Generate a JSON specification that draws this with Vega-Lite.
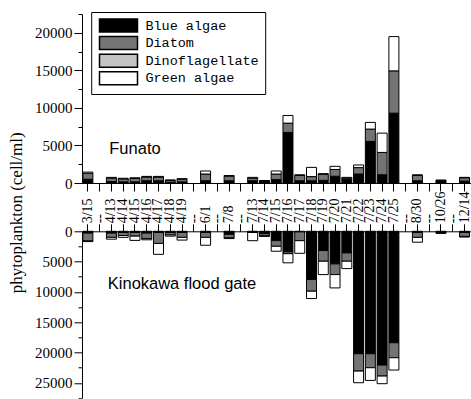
{
  "$schema": "https://vega.github.io/schema/vega-lite/v6.json",
  "background": "white",
  "padding": {"left": 7, "top": 11, "right": 0, "bottom": 0},
  "bounds": "flush",
  "spacing": 48.3,
  "config": {
    "view": {"stroke": null},
    "font": "Liberation Serif",
    "legend": {"strokeWidth": 1},
    "axis": {"domainColor": "black", "tickColor": "black", "labelColor": "black", "titleColor": "black", "grid": false, "labelFont": "Liberation Serif", "titleFont": "Liberation Serif", "titleFontWeight": "normal", "domainWidth": 1, "tickWidth": 1}
  },
  "datasets": {
    "top": [
      {"d": "3/15", "s": "Blue algae", "v": 500}, {"d": "3/15", "s": "Diatom", "v": 800}, {"d": "3/15", "s": "Green algae", "v": 150},
      {"d": "4/13", "s": "Blue algae", "v": 200}, {"d": "4/13", "s": "Diatom", "v": 450}, {"d": "4/13", "s": "Green algae", "v": 100},
      {"d": "4/14", "s": "Blue algae", "v": 150}, {"d": "4/14", "s": "Diatom", "v": 400}, {"d": "4/14", "s": "Green algae", "v": 80},
      {"d": "4/15", "s": "Blue algae", "v": 150}, {"d": "4/15", "s": "Diatom", "v": 450}, {"d": "4/15", "s": "Green algae", "v": 100},
      {"d": "4/16", "s": "Blue algae", "v": 300}, {"d": "4/16", "s": "Diatom", "v": 500}, {"d": "4/16", "s": "Green algae", "v": 80},
      {"d": "4/17", "s": "Blue algae", "v": 300}, {"d": "4/17", "s": "Diatom", "v": 500}, {"d": "4/17", "s": "Green algae", "v": 80},
      {"d": "4/18", "s": "Blue algae", "v": 100}, {"d": "4/18", "s": "Diatom", "v": 250}, {"d": "4/18", "s": "Green algae", "v": 50},
      {"d": "4/19", "s": "Blue algae", "v": 150}, {"d": "4/19", "s": "Diatom", "v": 350}, {"d": "4/19", "s": "Green algae", "v": 80},
      {"d": "6/1", "s": "Blue algae", "v": 300}, {"d": "6/1", "s": "Diatom", "v": 900}, {"d": "6/1", "s": "Green algae", "v": 400},
      {"d": "7/8", "s": "Blue algae", "v": 300}, {"d": "7/8", "s": "Diatom", "v": 600}, {"d": "7/8", "s": "Green algae", "v": 100},
      {"d": "7/13", "s": "Blue algae", "v": 300}, {"d": "7/13", "s": "Diatom", "v": 350}, {"d": "7/13", "s": "Green algae", "v": 100},
      {"d": "7/14", "s": "Blue algae", "v": 250}, {"d": "7/14", "s": "Diatom", "v": 80},
      {"d": "7/15", "s": "Blue algae", "v": 450}, {"d": "7/15", "s": "Diatom", "v": 750}, {"d": "7/15", "s": "Green algae", "v": 400},
      {"d": "7/16", "s": "Blue algae", "v": 6730}, {"d": "7/16", "s": "Diatom", "v": 1240}, {"d": "7/16", "s": "Green algae", "v": 1020},
      {"d": "7/17", "s": "Blue algae", "v": 300}, {"d": "7/17", "s": "Diatom", "v": 700}, {"d": "7/17", "s": "Green algae", "v": 100},
      {"d": "7/18", "s": "Blue algae", "v": 300}, {"d": "7/18", "s": "Diatom", "v": 550}, {"d": "7/18", "s": "Green algae", "v": 1230},
      {"d": "7/19", "s": "Blue algae", "v": 350}, {"d": "7/19", "s": "Diatom", "v": 800}, {"d": "7/19", "s": "Green algae", "v": 100},
      {"d": "7/20", "s": "Blue algae", "v": 900}, {"d": "7/20", "s": "Diatom", "v": 900}, {"d": "7/20", "s": "Green algae", "v": 420},
      {"d": "7/21", "s": "Blue algae", "v": 500}, {"d": "7/21", "s": "Diatom", "v": 150}, {"d": "7/21", "s": "Green algae", "v": 100},
      {"d": "7/22", "s": "Blue algae", "v": 1200}, {"d": "7/22", "s": "Diatom", "v": 850}, {"d": "7/22", "s": "Green algae", "v": 350},
      {"d": "7/23", "s": "Blue algae", "v": 5540}, {"d": "7/23", "s": "Diatom", "v": 1640}, {"d": "7/23", "s": "Green algae", "v": 890},
      {"d": "7/24", "s": "Blue algae", "v": 1100}, {"d": "7/24", "s": "Diatom", "v": 2970}, {"d": "7/24", "s": "Green algae", "v": 2570},
      {"d": "7/25", "s": "Blue algae", "v": 9300}, {"d": "7/25", "s": "Diatom", "v": 5630}, {"d": "7/25", "s": "Green algae", "v": 4560},
      {"d": "8/30", "s": "Blue algae", "v": 300}, {"d": "8/30", "s": "Diatom", "v": 700}, {"d": "8/30", "s": "Green algae", "v": 100},
      {"d": "10/26", "s": "Blue algae", "v": 300}, {"d": "10/26", "s": "Diatom", "v": 100},
      {"d": "12/14", "s": "Blue algae", "v": 250}, {"d": "12/14", "s": "Diatom", "v": 450}, {"d": "12/14", "s": "Green algae", "v": 50}
    ],
    "bot": [
      {"d": "3/15", "s": "Blue algae", "v": 300}, {"d": "3/15", "s": "Diatom", "v": 1300}, {"d": "3/15", "s": "Green algae", "v": 100},
      {"d": "4/13", "s": "Blue algae", "v": 300}, {"d": "4/13", "s": "Diatom", "v": 700}, {"d": "4/13", "s": "Green algae", "v": 300},
      {"d": "4/14", "s": "Blue algae", "v": 200}, {"d": "4/14", "s": "Diatom", "v": 500}, {"d": "4/14", "s": "Green algae", "v": 300},
      {"d": "4/15", "s": "Blue algae", "v": 200}, {"d": "4/15", "s": "Diatom", "v": 600}, {"d": "4/15", "s": "Green algae", "v": 700},
      {"d": "4/16", "s": "Blue algae", "v": 300}, {"d": "4/16", "s": "Diatom", "v": 900}, {"d": "4/16", "s": "Green algae", "v": 200},
      {"d": "4/17", "s": "Blue algae", "v": 200}, {"d": "4/17", "s": "Diatom", "v": 1800}, {"d": "4/17", "s": "Green algae", "v": 1800},
      {"d": "4/18", "s": "Blue algae", "v": 200}, {"d": "4/18", "s": "Diatom", "v": 400}, {"d": "4/18", "s": "Green algae", "v": 200},
      {"d": "4/19", "s": "Blue algae", "v": 200}, {"d": "4/19", "s": "Diatom", "v": 800}, {"d": "4/19", "s": "Green algae", "v": 450},
      {"d": "6/1", "s": "Blue algae", "v": 200}, {"d": "6/1", "s": "Diatom", "v": 800}, {"d": "6/1", "s": "Green algae", "v": 1300},
      {"d": "7/8", "s": "Blue algae", "v": 500}, {"d": "7/8", "s": "Diatom", "v": 600}, {"d": "7/8", "s": "Green algae", "v": 100},
      {"d": "7/13", "s": "Blue algae", "v": 100}, {"d": "7/13", "s": "Diatom", "v": 100}, {"d": "7/13", "s": "Green algae", "v": 1350},
      {"d": "7/14", "s": "Blue algae", "v": 400}, {"d": "7/14", "s": "Diatom", "v": 350}, {"d": "7/14", "s": "Green algae", "v": 100},
      {"d": "7/15", "s": "Blue algae", "v": 1540}, {"d": "7/15", "s": "Diatom", "v": 930}, {"d": "7/15", "s": "Green algae", "v": 820},
      {"d": "7/16", "s": "Blue algae", "v": 3400}, {"d": "7/16", "s": "Diatom", "v": 300}, {"d": "7/16", "s": "Green algae", "v": 1500},
      {"d": "7/17", "s": "Blue algae", "v": 100}, {"d": "7/17", "s": "Diatom", "v": 1450}, {"d": "7/17", "s": "Green algae", "v": 2080},
      {"d": "7/18", "s": "Blue algae", "v": 7960}, {"d": "7/18", "s": "Diatom", "v": 1920}, {"d": "7/18", "s": "Green algae", "v": 1210},
      {"d": "7/19", "s": "Blue algae", "v": 3180}, {"d": "7/19", "s": "Diatom", "v": 1760}, {"d": "7/19", "s": "Green algae", "v": 2200},
      {"d": "7/20", "s": "Blue algae", "v": 5380}, {"d": "7/20", "s": "Diatom", "v": 1760}, {"d": "7/20", "s": "Green algae", "v": 2200},
      {"d": "7/21", "s": "Blue algae", "v": 3570}, {"d": "7/21", "s": "Diatom", "v": 1370}, {"d": "7/21", "s": "Green algae", "v": 1210},
      {"d": "7/22", "s": "Blue algae", "v": 20200}, {"d": "7/22", "s": "Diatom", "v": 2860}, {"d": "7/22", "s": "Green algae", "v": 1920},
      {"d": "7/23", "s": "Blue algae", "v": 20200}, {"d": "7/23", "s": "Diatom", "v": 2310}, {"d": "7/23", "s": "Green algae", "v": 2090},
      {"d": "7/24", "s": "Blue algae", "v": 22070}, {"d": "7/24", "s": "Diatom", "v": 1810}, {"d": "7/24", "s": "Green algae", "v": 1260},
      {"d": "7/25", "s": "Blue algae", "v": 18390}, {"d": "7/25", "s": "Diatom", "v": 2470}, {"d": "7/25", "s": "Green algae", "v": 2030},
      {"d": "8/30", "s": "Blue algae", "v": 200}, {"d": "8/30", "s": "Diatom", "v": 800}, {"d": "8/30", "s": "Green algae", "v": 800},
      {"d": "10/26", "s": "Blue algae", "v": 350},
      {"d": "12/14", "s": "Blue algae", "v": 200}, {"d": "12/14", "s": "Diatom", "v": 650}, {"d": "12/14", "s": "Green algae", "v": 100}
    ],
    "notes": [
      {"p": "top", "d": "4/15", "v": 3800, "t": "Funato"},
      {"p": "bot", "d": "4/19", "v": 9500, "t": "Kinokawa flood gate"}
    ]
  },
  "resolve": {"legend": {"fill": "independent"}},
  "vconcat": [
    {
      "width": 388.4,
      "height": 169,
      "resolve": {"axis": {"x": "independent", "y": "independent"}},
      "layer": [
        {
          "data": {"name": "top"},
          "mark": {"type": "bar", "stroke": "black", "strokeWidth": 1},
          "encoding": {
            "x": {
              "field": "d", "type": "nominal",
              "scale": {"domain": ["3/15", "b1", "4/13", "4/14", "4/15", "4/16", "4/17", "4/18", "4/19", "b2", "6/1", "b3", "7/8", "b4", "7/13", "7/14", "7/15", "7/16", "7/17", "7/18", "7/19", "7/20", "7/21", "7/22", "7/23", "7/24", "7/25", "b5", "8/30", "b6", "10/26", "b7", "12/14"], "paddingInner": 0.15, "paddingOuter": 0.075},
              "axis": {"orient": "bottom", "labels": false, "title": null, "tickSize": 8}
            },
            "y": {
              "field": "v", "type": "quantitative", "stack": true,
              "scale": {"domain": [0, 22500], "nice": false},
              "axis": {"values": [0, 5000, 10000, 15000, 20000], "format": "d", "tickSize": 8, "labelFontSize": 15, "labelPadding": 2,
                       "title": "phytoplankton (cell/ml)", "titleFontSize": 17, "titleAngle": -90, "titleX": -60.5, "titleY": 198.3, "titleAlign": "center", "titleBaseline": "alphabetic"}
            },
            "fill": {
              "field": "s", "type": "nominal",
              "scale": {"domain": ["Blue algae", "Diatom", "Dinoflagellate", "Green algae"], "range": ["#000000", "#747474", "#c4c4c4", "#ffffff"]},
              "legend": {"orient": "none", "legendX": 9.2, "legendY": -2, "title": null, "strokeColor": "black", "fillColor": "white", "padding": 6,
                         "symbolType": "M-2.923,-1H2.923V1H-2.923Z", "symbolSize": 169, "symbolStrokeColor": "black", "symbolStrokeWidth": 1.5, "symbolOpacity": 1,
                         "symbolOffset": 13.8, "labelOffset": 19.4, "rowPadding": -1.4, "labelFont": "Liberation Mono", "labelFontSize": 13.5, "labelColor": "black"}
            },
            "order": {"field": "s", "sort": "ascending"}
          }
        },
        {
          "data": {"name": "notes"},
          "transform": [{"filter": "datum.p == 'top'"}],
          "mark": {"type": "text", "font": "Liberation Sans", "fontSize": 16.5, "align": "center", "baseline": "alphabetic", "color": "black"},
          "encoding": {
            "x": {"field": "d", "type": "nominal", "axis": null},
            "y": {"field": "v", "type": "quantitative", "axis": {"orient": "left", "values": [2500, 7500, 12500, 17500, 22500], "labels": false, "tickSize": 4, "domain": false, "title": null}},
            "text": {"field": "t"}
          }
        }
      ]
    },
    {
      "width": 388.4,
      "height": 166.7,
      "resolve": {"axis": {"x": "independent", "y": "independent"}},
      "layer": [
        {
          "data": {"name": "bot"},
          "mark": {"type": "bar", "stroke": "black", "strokeWidth": 1},
          "encoding": {
            "x": {
              "field": "d", "type": "nominal",
              "scale": {"domain": ["3/15", "b1", "4/13", "4/14", "4/15", "4/16", "4/17", "4/18", "4/19", "b2", "6/1", "b3", "7/8", "b4", "7/13", "7/14", "7/15", "7/16", "7/17", "7/18", "7/19", "7/20", "7/21", "7/22", "7/23", "7/24", "7/25", "b5", "8/30", "b6", "10/26", "b7", "12/14"], "paddingInner": 0.15, "paddingOuter": 0.075},
              "axis": {"orient": "top", "title": null, "tickSize": 7.5, "labelAngle": -90, "labelAlign": "left", "labelBaseline": "middle", "labelPadding": 1, "labelFontSize": 14, "labelOverlap": false, "labelBound": false,
                       "labelExpr": "substring(datum.value, 0, 1) == 'b' ? '\u00a0\u00a0\u00a0\u00a0\u00a0\u00a0--' : datum.value"}
            },
            "y": {
              "field": "v", "type": "quantitative", "stack": true,
              "scale": {"domain": [0, 27500], "nice": false, "reverse": true},
              "axis": {"values": [0, 5000, 10000, 15000, 20000, 25000], "format": "d", "tickSize": 8, "labelFontSize": 15, "labelPadding": 2, "title": null}
            },
            "fill": {
              "field": "s", "type": "nominal",
              "scale": {"domain": ["Blue algae", "Diatom", "Dinoflagellate", "Green algae"], "range": ["#000000", "#747474", "#c4c4c4", "#ffffff"]},
              "legend": null
            },
            "order": {"field": "s", "sort": "ascending"}
          }
        },
        {
          "data": {"name": "notes"},
          "transform": [{"filter": "datum.p == 'bot'"}],
          "mark": {"type": "text", "font": "Liberation Sans", "fontSize": 16.5, "align": "center", "baseline": "alphabetic", "color": "black"},
          "encoding": {
            "x": {"field": "d", "type": "nominal", "axis": null},
            "y": {"field": "v", "type": "quantitative", "axis": {"orient": "left", "values": [2500, 7500, 12500, 17500, 22500, 27500], "labels": false, "tickSize": 4, "domain": false, "title": null}},
            "text": {"field": "t"}
          }
        }
      ]
    }
  ]
}
